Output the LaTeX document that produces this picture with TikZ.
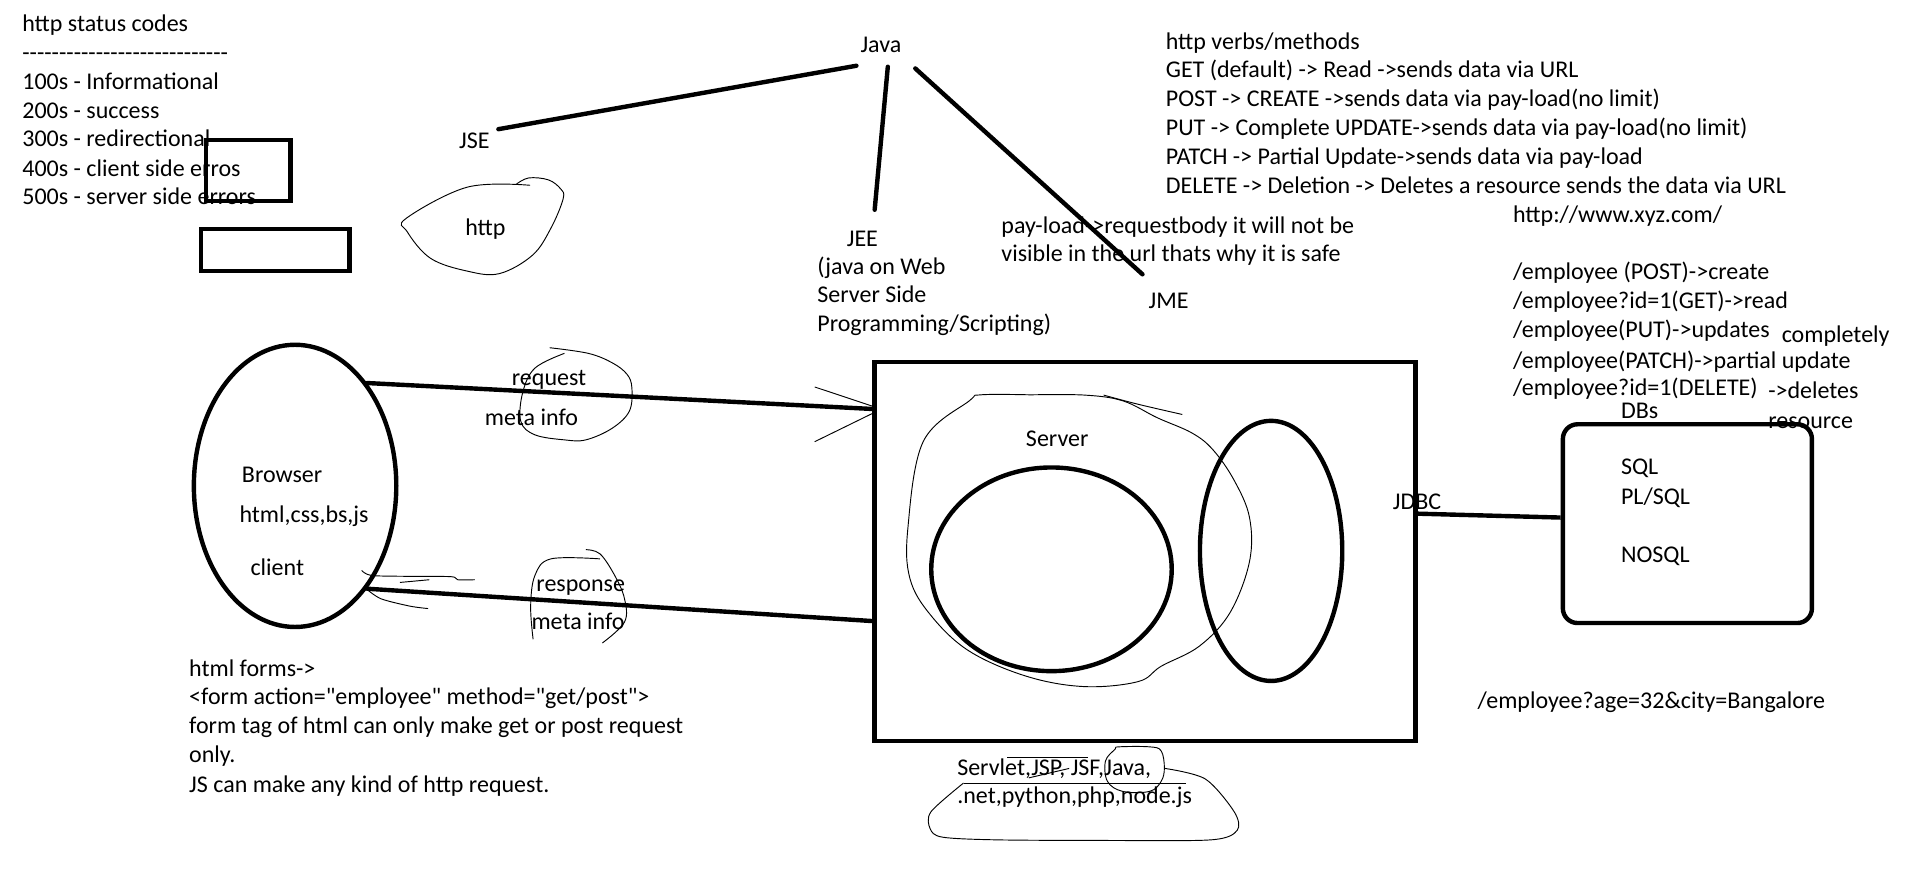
\documentclass[tikz,border=0pt]{standalone}
\usepackage{fontspec}
\setmainfont{Carlito}[Ligatures=TeXOff]
\usetikzlibrary{shapes.geometric,calc}
\begin{document}
\begin{tikzpicture}[x=0.9202pt,y=-0.9202pt,
  txt/.style={font=\fontsize{18}{21.6}\selectfont, inner sep=0pt, anchor=mid west, yshift=-3.2pt},
  heavy/.style={line width=3.3pt, line cap=round},
  pen/.style={line width=0.7pt},
  box/.style={draw, heavy, inner sep=0pt, anchor=north west}]
\useasboundingbox (0,0) rectangle (1560,708);
\fill[white] (0,0) rectangle (1560,708);

% status codes
\node[txt] (st0) at (18,20) {http status codes};
\node[txt] (st1) at (18,43) {----------------------------};
\node[txt] (st2) at (18,67) {100s - Informational};
\node[txt] (st3) at (18,90.5) {200s - success};
\node[txt] (st4) at (18,113.5) {300s - redirectional};
\node[txt] (st5) at (18,137.5) {400s - client side erros};
\node[txt] (st6) at (18,161) {500s - server side errors};
\node[box, minimum width=69*0.9202pt, minimum height=49.6*0.9202pt] (r1) at (166,112.4) {};
\node[box, minimum width=121*0.9202pt, minimum height=34*0.9202pt] (r2) at (162,185) {};

% Java tree
\node[txt, anchor=mid] (java) at (718,37) {Java};
\node[txt] (jse) at (374,115) {JSE};
\node[txt] (http) at (379,186) {http};
\node[txt] (jee) at (690,194.5) {JEE};
\node[txt] (jee1) at (666,217.6) {(java on Web};
\node[txt] (jee2) at (666,240.7) {Server Side};
\node[txt] (jee3) at (666,263.8) {Programming/Scripting)};
\node[txt] (jme) at (936,245) {JME};
\node[txt] (pl1) at (816,184.4) {pay-load->requestbody it will not be};
\node[txt] (pl2) at (816,207) {visible in the url thats why it is safe};
\draw[heavy] ([shift={(7,-13.2)}]jse.mid east) -- ([shift={(-20,13.1)}]java.mid);
\draw[heavy] ([shift={(5.6,13.9)}]java.mid) -- ([shift={(10,-27)}]jee.mid);
\draw[heavy] ([shift={(28,15.3)}]java.mid) -- ([shift={(-21.3,-24.9)}]jme.mid);
\draw[pen] plot[smooth, tension=0.6] coordinates {(432,151) (381,152.5) (331,178) (332,189) (351,210.6) (381,221) (407,223) (434,208) (449,186) (459,162) (457,154) (447,146.6) (431,145) (421,150)};

% verbs
\node[txt] (v0) at (950,34) {http verbs/methods};
\node[txt] (v1) at (950,57) {GET (default) -> Read ->sends data via URL};
\node[txt] (v2) at (950,80.8) {POST -> CREATE ->sends data via pay-load(no limit)};
\node[txt] (v3) at (950,104) {PUT -> Complete UPDATE->sends data via pay-load(no limit)};
\node[txt] (v4) at (950,128) {PATCH -> Partial Update->sends data via pay-load};
\node[txt] (v5) at (950,151.5) {DELETE -> Deletion -> Deletes a resource sends the data via URL};
\node[txt] (xyz) at (1233,175) {http://www.xyz.com/};
\node[txt] (e1) at (1233,222) {/employee (POST)->create};
\node[txt] (e2) at (1233,245.6) {/employee?id=1(GET)->read};
\node[txt] (e3) at (1233,269.4) {/employee(PUT)->updates};
\node[txt] (e3b) at (1452,272.7) {completely};
\node[txt] (e4) at (1233,294) {/employee(PATCH)->partial update};
\node[txt] (e5) at (1233,316) {/employee?id=1(DELETE)};
\node[txt] (e5b) at (1441,318.6) {->deletes};
\node[txt] (e5c) at (1441,343) {resource};

% browser
\node[draw, heavy, ellipse, inner sep=0pt, minimum width=165*0.9202pt, minimum height=230*0.9202pt] (br) at (240.5,396) {};
\node[txt] (brt) at (197,387) {Browser};
\node[txt] (brh) at (195,420) {html,css,bs,js};
\node[txt] (brc) at (204,463) {client};

% server
\node[box, minimum width=441*0.9202pt, minimum height=309*0.9202pt] (srv) at (711,293) {};
\node[draw, heavy, ellipse, inner sep=0pt, minimum width=196*0.9202pt, minimum height=166*0.9202pt] (c1) at (857,464) {};
\node[draw, heavy, ellipse, inner sep=0pt, minimum width=116*0.9202pt, minimum height=212*0.9202pt] (c2) at (1036,449) {};
\node[txt] (srvt) at (836,358) {Server};
\node[txt] (jdbc) at (1135,409.5) {JDBC};
\draw[pen] plot[smooth, tension=0.6] coordinates {(840,321.8) (799.4,321.8) (790,326.7) (752.5,359.8) (740,430) (741.6,471.4) (758.8,501.7) (790,530.7) (837,551.3) (883.9,559.6) (927.7,555.5) (946.4,543) (977.7,526.5) (1002.7,499) (1018.4,457.6) (1018.4,421.8) (1005.9,391.5) (988.7,366.7) (971.5,352.9) (943.3,340.5) (915.2,326.7) (883.9,322) (840,321.8)};
\draw[pen] plot[smooth, tension=0.6] coordinates {(899.5,322) (927.7,329.5) (963.6,337.8)};

% request / response
\draw[heavy] (br.55) -- ($(srv.north west)!0.129!(srv.south west)$);
\draw[heavy] (br.-55) -- ($(srv.north west)!0.682!(srv.south west)$);
\node[txt] (req) at (417,308) {request};
\node[txt] (reqm) at (395,341) {meta info};
\node[txt] (res) at (437,476) {response};
\node[txt] (resm) at (433,507) {meta info};
\draw[pen] plot[smooth, tension=0.6] coordinates {(460,288) (436,300) (426,320) (424.5,343.5) (436,354.4) (460,358.5) (477.5,358.5) (499,349) (513,335) (515,316) (511,305) (499,295.7) (479.5,288) (448,283.4)};
\draw[pen] (664,315.4) -- (711,331);
\draw[pen] (664,360) -- (711,337);
\draw[pen] plot[smooth, tension=0.6] coordinates {(434.5,521) (432.5,494) (436,469) (449,455.5) (489,455.5)};
\draw[pen] plot[smooth, tension=0.6] coordinates {(477.5,448) (489,451.4) (501,469) (509,488) (509,507) (491,524)};
\draw[pen] plot[smooth, tension=0.5] coordinates {(294.8,465) (302.6,469) (330,469.7) (367.5,470) (373,472.5) (387,472.5)};
\draw[pen] (326,474.7) -- (350,472.5);
\draw[pen] plot[smooth, tension=0.5] coordinates {(298.7,480) (310.5,488) (334,494) (349,496)};

% DB
\node[box, rounded corners=11pt, minimum width=203*0.9202pt, minimum height=162*0.9202pt] (db) at (1272,344) {};
\node[txt] (dbs) at (1321,335) {DBs};
\node[txt] (sql) at (1321,381) {SQL};
\node[txt] (plsql) at (1321,404.7) {PL/SQL};
\node[txt] (nosql) at (1321,452) {NOSQL};
\draw[heavy, line cap=butt] ($(srv.north east)!0.402!(srv.south east)$) -- ($(db.north west)!0.47!(db.south west)$);
\node[txt] (age) at (1204,571) {/employee?age=32\&city=Bangalore};

% technologies
\node[txt] (tech1) at (780,626) {Servlet,JSP, JSF,Java,};
\node[txt] (tech2) at (780,649) {.net,python,php,node.js};
\draw[pen] plot[smooth cycle, tension=0.6] coordinates {(912,608.7) (937,608.7) (946.4,612) (949,625.8) (946.4,636.8) (937,645) (915,645) (902.6,636.8) (901,620.3) (908.9,610.6)};
\draw[pen] (785.3,638.2) -- (966.8,638.2);
\draw[pen] plot[smooth, tension=0.5] coordinates {(949.6,626.3) (982.4,634.9) (1005.9,661.6) (1008.4,676.7) (987.1,684.5) (900,685) (811.9,684.5) (768.1,682.3) (758.1,675.4) (758.8,661.6) (785.3,638.2)};
\draw[pen] (821,617) -- (887,617);
\draw[pen] (838.5,634) -- (871.4,626.3);

% html forms
\node[txt] (f1) at (154,545) {html forms->};
\node[txt] (f2) at (154,568) {<form action="employee" method="get/post">};
\node[txt] (f3) at (154,592) {form tag of html can only make get or post request};
\node[txt] (f4) at (154,615.6) {only.};
\node[txt] (f5) at (154,640) {JS can make any kind of http request.};
\end{tikzpicture}
\end{document}
